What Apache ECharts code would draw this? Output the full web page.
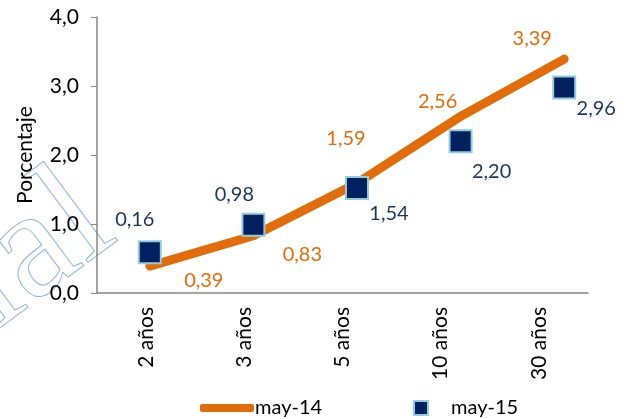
<!DOCTYPE html>
<html>
<head>
    <meta charset="utf-8">
    <title>Porcentaje</title>
    <script src="https://cdn.jsdelivr.net/npm/echarts@6/dist/echarts.min.js"></script>
    <style>
        html, body { margin: 0; padding: 0; background: #fff; }
        #chart { width: 632px; height: 419px; }
    </style>
</head>
<body>
<div id="chart"></div>
<script type="text/javascript">
    var categories = ['2 años', '3 años', '5 años', '10 años', '30 años'];
    var may14 = [0.39, 0.83, 1.59, 2.56, 3.39];
    // puntos tal como aparecen en el grafico
    var may15 = [0.59, 0.99, 1.52, 2.20, 2.98];
    var may15Labels = ['0,16', '0,98', '1,54', '2,20', '2,96'];
    var yTicks = [0, 1, 2, 3, 4];

    var font = 'Lato';
    var orange = '#E36C0A';
    var navy = '#002060';

    // desplazamiento de cada etiqueta respecto al punto
    var lineLabelPos = [[54, 14], [49, 19], [-11, -45], [-23, -15], [-32, -21]];
    var sqLabelPos = [[-15, -33], [-19, -30], [32, 25], [31, 30], [32, 21]];

    function fmt(v) {
        return v.toFixed(2).replace('.', ',');
    }

    // simbolo de 2px: el centro queda en (1, 1) del recuadro
    var lineData = may14.map(function (v, i) {
        return {
            value: v,
            label: {
                position: [1 + lineLabelPos[i][0], 1 + lineLabelPos[i][1]],
                align: 'center', verticalAlign: 'middle',
                formatter: fmt(v)
            }
        };
    });
    var sqData = may15.map(function (v, i) {
        return {
            value: v,
            label: { position: 'inside', offset: sqLabelPos[i], formatter: may15Labels[i] }
        };
    });

    var myChart = echarts.init(document.getElementById('chart'));
    var option = {
        animation: false,
        textStyle: { fontFamily: font },
        graphic: [{
            type: 'text',
            x: 142, y: 268,
            rotation: 0.64,
            z: -10,
            silent: true,
            style: {
                text: 'Confidencial',
                font: '155px "Liberation Serif"',
                align: 'right',
                verticalAlign: 'bottom',
                fill: 'rgba(0,0,0,0)',
                stroke: '#8DB4E2',
                lineWidth: 1
            }
        }],
        // grid 0: ejes visibles, grid 1: donde se dibujan las series
        grid: [
            { left: 97, right: 44, top: 17, bottom: 126 },
            { left: 98, right: 16, top: 17, bottom: 126 }
        ],
        legend: [
            {
                left: 195, top: 393,
                itemWidth: 54, itemHeight: 8,
                itemGap: 0,
                data: [{ name: 'may-14', icon: 'roundRect' }],
                textStyle: { fontFamily: font, fontSize: 20, color: '#000', padding: [0, 0, 0, -4] }
            },
            {
                left: 408, top: 393,
                itemWidth: 14, itemHeight: 14,
                data: [{ name: 'may-15', icon: 'rect' }],
                textStyle: { fontFamily: font, fontSize: 20, color: '#000', padding: [0, 0, 0, 18] }
            }
        ],
        xAxis: [
            {
                gridIndex: 0,
                type: 'category',
                data: categories,
                boundaryGap: true,
                axisLine: { lineStyle: { color: '#868686', width: 1.5 } },
                axisTick: { length: 6, lineStyle: { color: '#868686' } },
                axisLabel: { rotate: 90, margin: 14, fontSize: 21, color: '#000', fontFamily: font }
            },
            {
                gridIndex: 1,
                type: 'category',
                data: categories,
                boundaryGap: true,
                show: false
            }
        ],
        yAxis: [
            {
                gridIndex: 0,
                type: 'value',
                min: yTicks[0],
                max: yTicks[yTicks.length - 1],
                interval: 1,
                name: 'Porcentaje',
                nameLocation: 'middle',
                nameGap: 61,
                nameTextStyle: { fontSize: 21, color: '#000', fontFamily: font },
                splitLine: { show: false },
                axisLine: { show: true, lineStyle: { color: '#868686', width: 1.5 } },
                axisTick: { show: true, length: 6, lineStyle: { color: '#868686' } },
                axisLabel: {
                    margin: 18, fontSize: 21, color: '#000', fontFamily: font,
                    formatter: function (v) { return v.toFixed(1).replace('.', ','); }
                }
            },
            {
                gridIndex: 1,
                type: 'value',
                min: yTicks[0],
                max: yTicks[yTicks.length - 1],
                interval: 1,
                show: false,
                splitLine: { show: false }
            }
        ],
        series: [
            {
                name: 'may-14',
                type: 'line',
                xAxisIndex: 1,
                yAxisIndex: 1,
                data: lineData,
                symbol: 'circle',
                symbolSize: 2,
                showSymbol: true,
                itemStyle: { color: orange },
                lineStyle: { color: orange, width: 9, cap: 'round', join: 'round' },
                label: { show: true, color: orange, fontSize: 20, fontFamily: font },
                z: 2
            },
            {
                name: 'may-15',
                type: 'scatter',
                xAxisIndex: 1,
                yAxisIndex: 1,
                data: sqData,
                symbol: 'rect',
                symbolSize: 22,
                itemStyle: { color: navy, opacity: 1, borderColor: '#93CDDD', borderWidth: 2 },
                label: { show: true, color: '#17375E', fontSize: 20, fontFamily: font },
                z: 3
            }
        ]
    };
    myChart.setOption(option);
</script>
</body>
</html>
